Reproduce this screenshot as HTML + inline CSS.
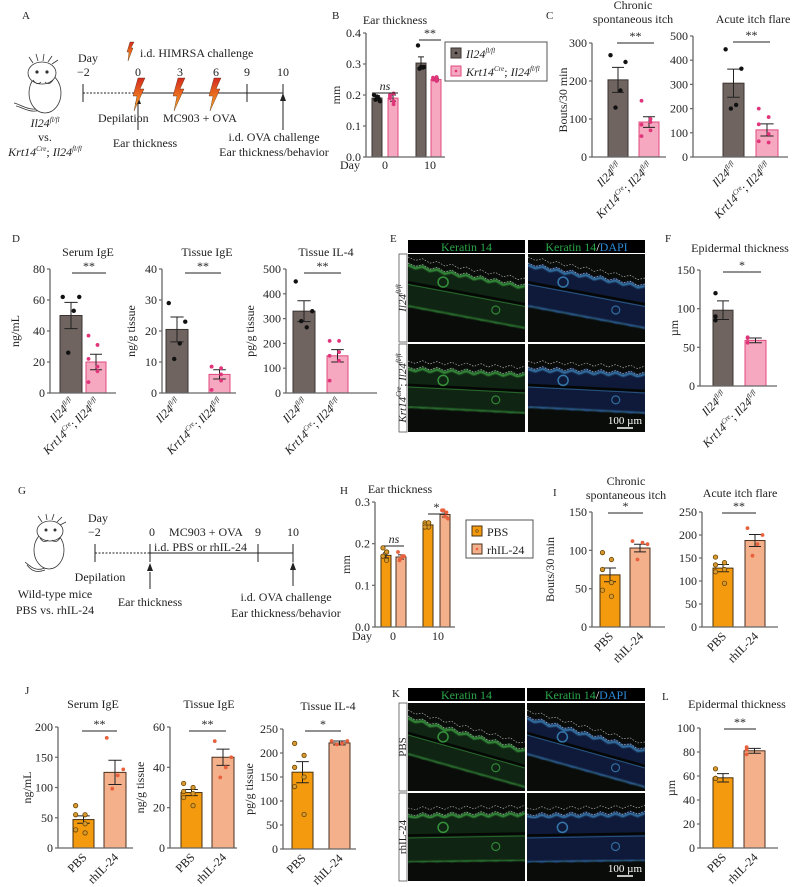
<!DOCTYPE html>
<html><head><meta charset="utf-8"><style>
html,body{margin:0;padding:0;background:#fff}
svg{display:block;font-family:"Liberation Serif",serif;}
text{fill:#222}
</style></head><body>
<svg id="fig" width="800" height="887" viewBox="0 0 800 887" xmlns="http://www.w3.org/2000/svg">
<defs>
<linearGradient id="bolt" x1="0" y1="0" x2="0" y2="1"><stop offset="0" stop-color="#d42a1e"/><stop offset="0.6" stop-color="#ee7a20"/><stop offset="1" stop-color="#f5b030"/></linearGradient>
<filter id="blur"><feGaussianBlur stdDeviation="0.8"/></filter>
</defs>
<g id="static" font-size="11">
<text x="22" y="19" font-size="11">A</text>
<g fill="#fff" stroke="#333" stroke-width="0.8">
<path d="M40,108 C30,112 20,104 14,103" fill="none"/>
<path d="M40,110 C30,114 20,106 16,106" fill="none"/>
<ellipse cx="45" cy="93" rx="16" ry="20"/>
<ellipse cx="42" cy="73" rx="14" ry="11"/>
<path d="M33,63 l-4,-6 M38,61 l-2,-7 M43,61 l1,-7 M48,62 l4,-6 M52,64 l6,-4" fill="none"/>
<circle cx="37" cy="72" r="1.2" fill="#333"/><circle cx="47" cy="72" r="1.2" fill="#333"/>
<path d="M33,80 q4,6 8,2 M45,82 q4,4 8,-2" fill="none"/>
</g>
<text x="45" y="127" text-anchor="middle" font-size="12"><tspan font-style="italic">Il24</tspan><tspan font-style="italic" font-size="7" dy="-5">fl/fl</tspan></text>
<text x="98" y="122" font-size="12">Depilation</text>
<text x="45" y="141" text-anchor="middle" font-size="12">vs.</text>
<text x="45" y="156" text-anchor="middle" font-size="12"><tspan font-style="italic">Krt14</tspan><tspan font-style="italic" font-size="7" dy="-5">Cre</tspan><tspan dy="5">; </tspan><tspan font-style="italic">Il24</tspan><tspan font-style="italic" font-size="7" dy="-5">fl/fl</tspan></text>
<text x="78" y="62" font-size="12">Day</text>
<text x="77" y="76" font-size="12">−2</text>
<g stroke="#222" stroke-width="1">
<line x1="83" y1="93" x2="136" y2="93" stroke-dasharray="2,1.5"/>
<line x1="136" y1="93" x2="283" y2="93"/>
<line x1="83" y1="84" x2="83" y2="102"/><line x1="247" y1="84" x2="247" y2="102"/><line x1="283" y1="84" x2="283" y2="102"/>
<line x1="138" y1="130" x2="138" y2="104"/><line x1="283" y1="130" x2="283" y2="100"/>
</g>
<path d="M135,104 l3,-8 l3,8z M280,101 l3,-8 l3,8z" fill="#222"/>
<text x="138" y="76" text-anchor="middle" font-size="12">0</text>
<text x="180" y="76" text-anchor="middle" font-size="12">3</text>
<text x="216" y="76" text-anchor="middle" font-size="12">6</text>
<text x="247" y="76" text-anchor="middle" font-size="12">9</text>
<text x="283" y="76" text-anchor="middle" font-size="12">10</text>
<g fill="url(#bolt)" stroke="#5a2a10" stroke-width="0.4">
<path d="M138,78 l7,0 l-5,11 l4,0 l-10,22 l3,-15 l-4,0z"/>
<path d="M178,78 l7,0 l-5,11 l4,0 l-10,22 l3,-15 l-4,0z"/>
<path d="M214,78 l7,0 l-5,11 l4,0 l-10,22 l3,-15 l-4,0z"/>
<path d="M130,42 l4,0 l-3,6 l2,0 l-5,13 l1,-9 l-2,0z"/>
</g>
<text x="140" y="57" font-size="12">i.d. HIMRSA challenge</text>
<text x="163" y="122" font-size="12">MC903 + OVA</text>
<text x="145" y="147" text-anchor="middle" font-size="12">Ear thickness</text>
<text x="274" y="141" text-anchor="middle" font-size="12">i.d. OVA challenge</text>
<text x="274" y="156" text-anchor="middle" font-size="12">Ear thickness/behavior</text>

<text x="18" y="494">G</text>
<g fill="#fff" stroke="#333" stroke-width="0.8">
<path d="M45,568 C35,572 30,566 25,562" fill="none"/>
<path d="M45,570 C35,574 30,569 27,565" fill="none"/>
<ellipse cx="49" cy="550" rx="15" ry="19"/>
<ellipse cx="50" cy="531" rx="13" ry="10"/>
<path d="M42,522 l-4,-6 M47,520 l-1,-6 M52,520 l2,-6 M57,522 l5,-5 M60,525 l6,-3" fill="none"/>
<circle cx="46" cy="530" r="1.1" fill="#333"/><circle cx="55" cy="530" r="1.1" fill="#333"/>
<path d="M40,538 q4,6 8,2 M52,540 q4,4 8,-2" fill="none"/>
</g>
<text x="88" y="522" font-size="12">Day</text>
<text x="88" y="536" font-size="12">−2</text>
<g stroke="#222" stroke-width="1">
<line x1="95" y1="553" x2="150" y2="553" stroke-dasharray="2,1.5"/>
<line x1="150" y1="553" x2="293" y2="553"/>
<line x1="95" y1="544" x2="95" y2="562"/><line x1="150" y1="544" x2="150" y2="562"/><line x1="258" y1="544" x2="258" y2="562"/><line x1="293" y1="544" x2="293" y2="562"/>
<line x1="150" y1="589" x2="150" y2="572"/><line x1="293" y1="586" x2="293" y2="570"/>
</g>
<path d="M147,571 l3,-8 l3,8z M290,570 l3,-8 l3,8z" fill="#222"/>
<text x="152" y="536" text-anchor="middle" font-size="12">0</text>
<text x="206" y="536" text-anchor="middle" font-size="12">MC903 + OVA</text>
<text x="258" y="536" text-anchor="middle" font-size="12">9</text>
<text x="293" y="536" text-anchor="middle" font-size="12">10</text>
<text x="154" y="551" font-size="12">i.d. PBS or rhIL-24</text>
<text x="100" y="581" text-anchor="middle" font-size="12">Depilation</text>
<text x="55" y="598" text-anchor="middle" font-size="12">Wild-type mice</text>
<text x="55" y="614" text-anchor="middle" font-size="12">PBS vs. rhIL-24</text>
<text x="150" y="606" text-anchor="middle" font-size="12">Ear thickness</text>
<text x="286" y="601" text-anchor="middle" font-size="12">i.d. OVA challenge</text>
<text x="286" y="617" text-anchor="middle" font-size="12">Ear thickness/behavior</text>

<text x="332" y="19">B</text>
<text x="546" y="19">C</text>
<text x="12" y="242">D</text>
<text x="390" y="242">E</text>
<text x="665" y="242">F</text>
<text x="340" y="494">H</text>
<text x="553" y="496">I</text>
<text x="25" y="694">J</text>
<text x="392" y="697">K</text>
<text x="662" y="700">L</text>
</g>
<g id="charts"></g>
<g id="micro"></g>
</svg>
<script>
// ---------- data ----------
const bTicks=[0,0.1,0.2,0.3,0.4]; const bTickLabels=["0.0","0.1","0.2","0.3","0.4"];
const bMeans=[0.19,0.19,0.303,0.25]; const bErr=[0.008,0.01,0.02,0.004];
const bPts=[[0.2,0.19,0.185,0.18,0.195],[0.2,0.18,0.19,0.17,0.195,0.205],[0.36,0.29,0.285,0.29,0.29],[0.256,0.25,0.25,0.245,0.25,0.258]];
const c1Ticks=[0,100,200,300]; const c1Means=[203,92]; const c1Err=[33,14]; const c1Pts=[[268,250,175,130],[148,100,85,70,55,92]];
const c2Ticks=[0,100,200,300,400,500]; const c2Means=[305,112]; const c2Err=[58,25]; const c2Pts=[[445,365,215,200],[200,165,135,60,65,95]];
const d1Ticks=[0,20,40,60,80]; const d1Means=[50,20]; const d1Err=[8.5,5]; const d1Pts=[[62,62,53,26],[37,31,22,14,7,17]];
const d2Ticks=[0,10,20,30,40]; const d2Means=[20.5,6]; const d2Err=[4,1.5]; const d2Pts=[[29,23,16,11],[8.5,8,8.5,6,1,4]];
const d3Ticks=[0,100,200,300,400,500]; const d3Means=[330,150]; const d3Err=[42,25]; const d3Pts=[[450,330,265,290],[210,210,150,130,50,165]];
const fTicks=[0,50,100,150]; const fMeans=[98,59]; const fErr=[12,3]; const fPts=[[120,85,90],[62,63,56]];
const hTicks=[0,0.1,0.2,0.3]; const hTickLabels=["0.0","0.1","0.2","0.3"];
const hMeans=[0.172,0.168,0.245,0.27]; const hErr=[0.006,0.005,0.004,0.006];
const hPts=[[0.19,0.18,0.17,0.16,0.17,0.18],[0.18,0.17,0.16,0.17,0.165],[0.25,0.25,0.245,0.24,0.24,0.25],[0.28,0.275,0.28,0.26,0.265]];
const i1Ticks=[0,50,100,150]; const i1Means=[68,103]; const i1Err=[9,5]; const i1Pts=[[97,88,75,58,48,40],[112,108,110,88]];
const i2Ticks=[0,50,100,150,200,250]; const i2Means=[128,188]; const i2Err=[8,13]; const i2Pts=[[152,140,135,125,120,95],[215,200,180,155]];
const j1Ticks=[0,50,100,150,200]; const j1Means=[47,125]; const j1Err=[6,20]; const j1Pts=[[70,55,55,40,30,25],[182,130,120,98]];
const j2Ticks=[0,20,40,60]; const j2Means=[27.5,45]; const j2Err=[1.5,4]; const j2Pts=[[32,30,28,27,25,21],[53,45,40,35]];
const j3Ticks=[0,50,100,150,200,250]; const j3Means=[160,221]; const j3Err=[22,4]; const j3Pts=[[220,195,170,150,130,72],[225,225,220,218]];
const lTicks=[0,20,40,60,80,100]; const lMeans=[58.5,81]; const lErr=[3.5,2]; const lPts=[[66,58,58],[84,82,78]];

// ---------- helpers ----------
const NS="http://www.w3.org/2000/svg";
const root=document.getElementById('charts');
function mk(tag,attrs,parent,txt){const e=document.createElementNS(NS,tag);for(const k in attrs)e.setAttribute(k,attrs[k]);if(txt!==undefined)e.textContent=txt;(parent||root).appendChild(e);return e;}
const STY={
 grey:{fill:"#6f6460",stroke:"#3a3330",dot:"#111",dotStroke:"none",r:2.2},
 pink:{fill:"#f5a8bf",stroke:"#e04a80",dot:"#e0357a",dotStroke:"none",r:1.9},
 pbs:{fill:"#f39a0e",stroke:"#4a3210",dot:"#d89a30",dotStroke:"#6a4500",r:2.2},
 rh:{fill:"#f3b08b",stroke:"#4a3020",dot:"#e8603c",dotStroke:"none",r:1.9}
};
function il24(t){mk('tspan',{'font-style':'italic'},t,'Il24');mk('tspan',{'font-style':'italic','font-size':'7',dy:'-5'},t,'fl/fl');}
function xlab(t,kind){
 if(kind==='wt'){il24(t);}
 else if(kind==='ko'){mk('tspan',{'font-style':'italic'},t,'Krt14');mk('tspan',{'font-style':'italic','font-size':'7',dy:'-5'},t,'Cre');mk('tspan',{dy:'5'},t,'; ');il24(t);}
 else t.textContent=kind;
}
function chart(c,name){
 const g=mk('g',{});
 
 
 const tmax=c.ticks[c.ticks.length-1];
 const y=v=>c.yb-(v/tmax)*(c.yb-c.yt);
 c.means.forEach((m,i)=>{
  const s=STY[c.styles[i]]; const [x0,x1]=c.bars[i]; const cx=(x0+x1)/2;
  const r=mk('rect',{x:x0,y:y(m),width:x1-x0,height:c.yb-y(m),fill:s.fill,stroke:s.stroke,'stroke-width':1},g);
  
  
  const e=c.errs[i]; const hw=(x1-x0)*0.3;
  const eb=mk('path',{d:`M${cx},${y(m-e)}V${y(m+e)}M${cx-hw},${y(m+e)}H${cx+hw}M${cx-hw},${y(m-e)}H${cx+hw}`,stroke:'#222','stroke-width':1,fill:'none'},g);
  
  
  const n=c.pts[i].length; const sp=Math.min((x1-x0)*0.75,(x1-x0)-4);
  c.pts[i].forEach((p,j)=>{
   const dx=n>1?(-sp/2+sp*((j*3)%n)/(n-1)):0;
   const d=mk('circle',{cx:cx+dx,cy:y(p),r:s.r,fill:s.dot,stroke:s.dotStroke,'stroke-width':0.8},g);
   
   
  });
 });
 const ax=mk('path',{d:`M${c.ax},${c.yt}V${c.yb}H${c.xend}`,stroke:'#666','stroke-width':1.3,fill:'none'},g);
 
 
 c.ticks.forEach((t,i)=>{
  mk('line',{x1:c.ax-3,x2:c.ax,y1:y(t),y2:y(t),stroke:'#666','stroke-width':1.2},g);
  const tl=mk('text',{x:c.ax-5,y:y(t)+4,'text-anchor':'end','font-size':12},g,c.tickLabels?c.tickLabels[i]:String(t));
  
  
 });
 if(c.ylabel){const yl=mk('text',{transform:`translate(${c.ylx},${(c.yb+c.yt)/2}) rotate(-90)`,'text-anchor':'middle','font-size':12},g,c.ylabel);
  
  }
 if(c.title){c.title.forEach((t,i)=>{const tt=mk('text',{x:c.tx,y:c.ty+i*14,'text-anchor':'middle','font-size':12},g,t);
  
  });}
 if(c.xl){c.bars.forEach((b,i)=>{const cx=(b[0]+b[1])/2;
  const t=mk('text',{transform:`translate(${cx+4},${c.yb+10}) rotate(-45)`,'text-anchor':'end','font-size':12},g);
  xlab(t,c.xl[i]);
  
  });}
 (c.sig||[]).forEach(s=>{
  const l=mk('line',{x1:s[0],x2:s[1],y1:s[2],y2:s[2],stroke:'#222','stroke-width':1},g);
  
  
  const st=mk('text',{x:(s[0]+s[1])/2,y:s[2]-3,'text-anchor':'middle','font-size':12,'font-style':s[3]==='ns'?'italic':'normal'},g,s[3]);
  
  
 });
 return g;
}
const GP=['grey','pink'], OR=['pbs','rh'];
const WT=['wt','ko'], PR=['PBS','rhIL-24'];
chart({ax:366,yb:157,yt:33,ticks:bTicks,tickLabels:bTickLabels,xend:445,bars:[[372,382],[388,398],[416,426],[431,441]],means:bMeans,errs:bErr,pts:bPts,styles:['grey','pink','grey','pink'],
 tx:395,ty:24,title:['Ear thickness'],ylabel:'mm',ylx:340,sig:[[372,398,93,'ns'],[419,441,40,'**']]},'ear-thickness-b');
chart({ax:592,yb:157,yt:43,ticks:c1Ticks,xend:666,bars:[[608,628],[639,659]],means:c1Means,errs:c1Err,pts:c1Pts,styles:GP,tx:633,ty:9,title:['Chronic','spontaneous itch'],ylabel:'Bouts/30 min',ylx:567,xl:WT,sig:[[617,654,43,'**']]},'chronic-itch-c');
chart({ax:693,yb:157,yt:36,ticks:c2Ticks,xend:788,bars:[[723,744],[756,778]],means:c2Means,errs:c2Err,pts:c2Pts,styles:GP,tx:753,ty:23,title:['Acute itch flare'],xl:WT,sig:[[733,770,42,'**']]},'acute-itch-c');
chart({ax:50,yb:393,yt:269,ticks:d1Ticks,xend:116,bars:[[60,82],[86,106]],means:d1Means,errs:d1Err,pts:d1Pts,styles:GP,tx:88,ty:256,title:['Serum IgE'],ylabel:'ng/mL',ylx:19,xl:WT,sig:[[72,106,273,'**']]},'serum-ige-d');
chart({ax:162,yb:393,yt:269,ticks:d2Ticks,xend:236,bars:[[166,188],[209,230]],means:d2Means,errs:d2Err,pts:d2Pts,styles:GP,tx:207,ty:256,title:['Tissue IgE'],ylabel:'ng/g tissue',ylx:135,xl:WT,sig:[[185,221,273,'**']]},'tissue-ige-d');
chart({ax:286,yb:393,yt:269,ticks:d3Ticks,xend:377,bars:[[293,315],[327,348]],means:d3Means,errs:d3Err,pts:d3Pts,styles:GP,tx:326,ty:256,title:['Tissue IL-4'],ylabel:'pg/g tissue',ylx:254,xl:WT,sig:[[304,341,273,'**']]},'tissue-il4-d');
chart({ax:700,yb:386,yt:270,ticks:fTicks,xend:777,bars:[[713,733],[745,766]],means:fMeans,errs:fErr,pts:fPts,styles:GP,tx:740,ty:252,title:['Epidermal thickness'],ylabel:'µm',ylx:678,xl:WT,sig:[[723,761,272,'*']]},'epidermal-f');
chart({ax:375,yb:627,yt:502,ticks:hTicks,tickLabels:hTickLabels,xend:455,bars:[[381,391],[396,406],[423,433],[440,450]],means:hMeans,errs:hErr,pts:hPts,styles:['pbs','rh','pbs','rh'],
 tx:400,ty:493,title:['Ear thickness'],ylabel:'mm',ylx:350,sig:[[384,404,546,'ns'],[428,445,514,'*']]},'ear-thickness-h');
chart({ax:592,yb:627,yt:512,ticks:i1Ticks,xend:665,bars:[[600,620],[630,650]],means:i1Means,errs:i1Err,pts:i1Pts,styles:OR,tx:626,ty:485,title:['Chronic','spontaneous itch'],ylabel:'Bouts/30 min',ylx:554,xl:PR,sig:[[608,643,513,'*']]},'chronic-itch-i');
chart({ax:702,yb:627,yt:512,ticks:i2Ticks,xend:778,bars:[[713,733],[745,765]],means:i2Means,errs:i2Err,pts:i2Pts,styles:OR,tx:740,ty:497,title:['Acute itch flare'],xl:PR,sig:[[722,756,513,'**']]},'acute-itch-i');
chart({ax:58,yb:848,yt:727,ticks:j1Ticks,xend:133,bars:[[73,94],[104,126]],means:j1Means,errs:j1Err,pts:j1Pts,styles:OR,tx:93,ty:708,title:['Serum IgE'],ylabel:'ng/mL',ylx:31,xl:PR,sig:[[82,117,731,'**']]},'serum-ige-j');
chart({ax:170,yb:848,yt:727,ticks:j2Ticks,xend:237,bars:[[181,202],[212,234]],means:j2Means,errs:j2Err,pts:j2Pts,styles:OR,tx:209,ty:708,title:['Tissue IgE'],ylabel:'ng/g tissue',ylx:144,xl:PR,sig:[[189,226,731,'**']]},'tissue-ige-j');
chart({ax:283,yb:849,yt:729,ticks:j3Ticks,xend:356,bars:[[292,313],[329,350]],means:j3Means,errs:j3Err,pts:j3Pts,styles:OR,tx:328,ty:710,title:['Tissue IL-4'],ylabel:'pg/g tissue',ylx:253,xl:PR,sig:[[305,341,731,'*']]},'tissue-il4-j');
chart({ax:700,yb:848,yt:728,ticks:lTicks,xend:778,bars:[[713,733],[744,765]],means:lMeans,errs:lErr,pts:lPts,styles:OR,tx:737,ty:708,title:['Epidermal thickness'],ylabel:'µm',ylx:675,xl:PR,sig:[[724,756,729,'**']]},'epidermal-l');

function legend(x,y,w,h,items,name){
 const g=mk('g',{});
 
 
 mk('rect',{x:x,y:y,width:w,height:h,fill:'#fff',stroke:'#555','stroke-width':1},g);
 items.forEach((it,i)=>{const s=STY[it[0]];const yy=y+6+i*18;
  mk('rect',{x:x+6,y:yy,width:10,height:10,fill:s.fill,stroke:s.stroke},g);
  mk('circle',{cx:x+11,cy:yy+5,r:1.3,fill:s.dot,stroke:s.dotStroke,'stroke-width':0.6},g);
  const t=mk('text',{x:x+21,y:yy+10,'font-size':12},g); xlab(t,it[1]);
  
  });
}
legend(445,42,102,39,[['grey','wt'],['pink','ko']],'legend-b');
legend(466,520,67,38,[['pbs','PBS'],['rh','rhIL-24']],'legend-h');
[[350,169,'Day'],[385,169,'0'],[430,169,'10'],[362,640,'Day'],[393,640,'0'],[438,640,'10']].forEach(d=>{const t=mk('text',{x:d[0],y:d[1],'text-anchor':'middle','font-size':12},root,d[2]);
 
 });

// ---------- micrographs ----------
const mg=document.getElementById('micro');
function tissue(x,y,w,h,dapi,tl,tr,thick,name){
 const g=mk('g',{},mg);
 
 
 mk('rect',{x:x,y:y,width:w,height:h,fill:'#0a0c0a'},g);
 const cp=mk('clipPath',{id:'cp'+name},g); mk('rect',{x:x,y:y,width:w,height:h},cp);
 const gg=mk('g',{'clip-path':`url(#cp${name})`},g);
 const top=t=>tl+(tr-tl)*t;
 let dTop=`M${x},${y+tl}`;
 for(let i=1;i<=16;i++){const t=i/16;dTop+=` L${x+w*t},${y+top(t)+(i%2?2:-1)}`;}
 const body=dTop+` L${x+w},${y+tr+thick} `+(()=>{let s='';for(let i=16;i>=0;i--){const t=i/16;s+=`L${x+w*t},${y+top(t)+thick+(i%2?-2:1)} `;}return s;})()+'Z';
 mk('path',{d:body,fill:dapi?'#0f1a3a':'#0f2412'},gg);
 const edge=dapi?'#3f8fc8':'#3fae46';
 mk('path',{d:dTop,fill:'none',stroke:edge,'stroke-width':2.2,opacity:0.85,filter:'url(#blur)',transform:'translate(0,3)'},gg);
 mk('path',{d:`M${x},${y+tl+thick*0.45} L${x+w},${y+tr+thick*0.45}`,fill:'none',stroke:'#050705','stroke-width':2.5},gg);
 mk('path',{d:`M${x},${y+tl+thick*0.5} L${x+w},${y+tr+thick*0.5}`,fill:'none',stroke:edge,'stroke-width':1,opacity:0.5},gg);
 mk('path',{d:`M${x},${y+tl+thick-1} L${x+w},${y+tr+thick-1}`,fill:'none',stroke:edge,'stroke-width':1.5,opacity:0.75,filter:'url(#blur)'},gg);
 mk('path',{d:dTop,fill:'none',stroke:'#ccc','stroke-width':0.6,'stroke-dasharray':'1.5,1.5',transform:'translate(0,-5)'},gg);
 mk('path',{d:dTop,fill:'none',stroke:'#ccc','stroke-width':0.6,'stroke-dasharray':'1.5,1.5',transform:'translate(0,1)'},gg);
 mk('circle',{cx:x+w*0.3,cy:y+top(0.3)+thick*0.3,r:5,fill:'none',stroke:edge,'stroke-width':1.5,opacity:0.8},gg);
 mk('circle',{cx:x+w*0.75,cy:y+top(0.75)+thick*0.7,r:4,fill:'none',stroke:edge,'stroke-width':1.2,opacity:0.7},gg);
}
function header(x,y,w,dapi,name){
 const g=mk('g',{},mg);
 
 
 mk('rect',{x:x,y:y,width:w,height:13,fill:'#000'},g);
 const t=mk('text',{x:x+w/2,y:y+11,'text-anchor':'middle','font-size':12},g);
 mk('tspan',{fill:'#2aa84a'},t,'Keratin 14');
 if(dapi){mk('tspan',{fill:'#fff'},t,'/');mk('tspan',{fill:'#2a8ad8'},t,'DAPI');}
}
function rowLabel(x,y,h,kind,name){
 const g=mk('g',{},mg);
 
 
 mk('rect',{x:x,y:y,width:8,height:h,fill:'#fff',stroke:'#555','stroke-width':0.8},g);
 const t=mk('text',{transform:`translate(${x+7},${y+h/2}) rotate(-90)`,'text-anchor':'middle','font-size':11},g);
 xlab(t,kind);
}
header(408,240,117,false,'header-k14-e'); header(528,240,117,true,'header-k14-dapi-e');
rowLabel(399,254,88,'wt','row-label-wt-e'); rowLabel(399,344,88,'ko','row-label-ko-e');
tissue(408,254,117,88,false,8,30,45,'img-e-wt-k14'); tissue(528,254,117,88,true,8,30,45,'img-e-wt-dapi');
tissue(408,344,117,88,false,22,28,42,'img-e-ko-k14'); tissue(528,344,117,88,true,22,28,42,'img-e-ko-dapi');
header(408,688,117,false,'header-k14-k'); header(527,688,118,true,'header-k14-dapi-k');
rowLabel(399,703,88,'PBS','row-label-pbs-k'); rowLabel(399,793,88,'rhIL-24','row-label-rh-k');
tissue(408,703,117,88,false,12,45,40,'img-k-pbs-k14'); tissue(527,703,118,88,true,12,45,40,'img-k-pbs-dapi');
tissue(408,793,117,88,false,20,18,50,'img-k-rh-k14'); tissue(527,793,118,88,true,20,18,50,'img-k-rh-dapi');
[[625,428,'100 µm'],[625,876,'100 µm']].forEach((s,i)=>{
 const t=mk('text',{x:s[0],y:s[1]-4,'text-anchor':'middle','font-size':11,style:'fill:#fff'},mg,s[2]);
 
 
 mk('line',{x1:s[0]-8,x2:s[0]+8,y1:s[1],y2:s[1],stroke:'#fff','stroke-width':1.5},mg);
});
</script>
</body></html>
